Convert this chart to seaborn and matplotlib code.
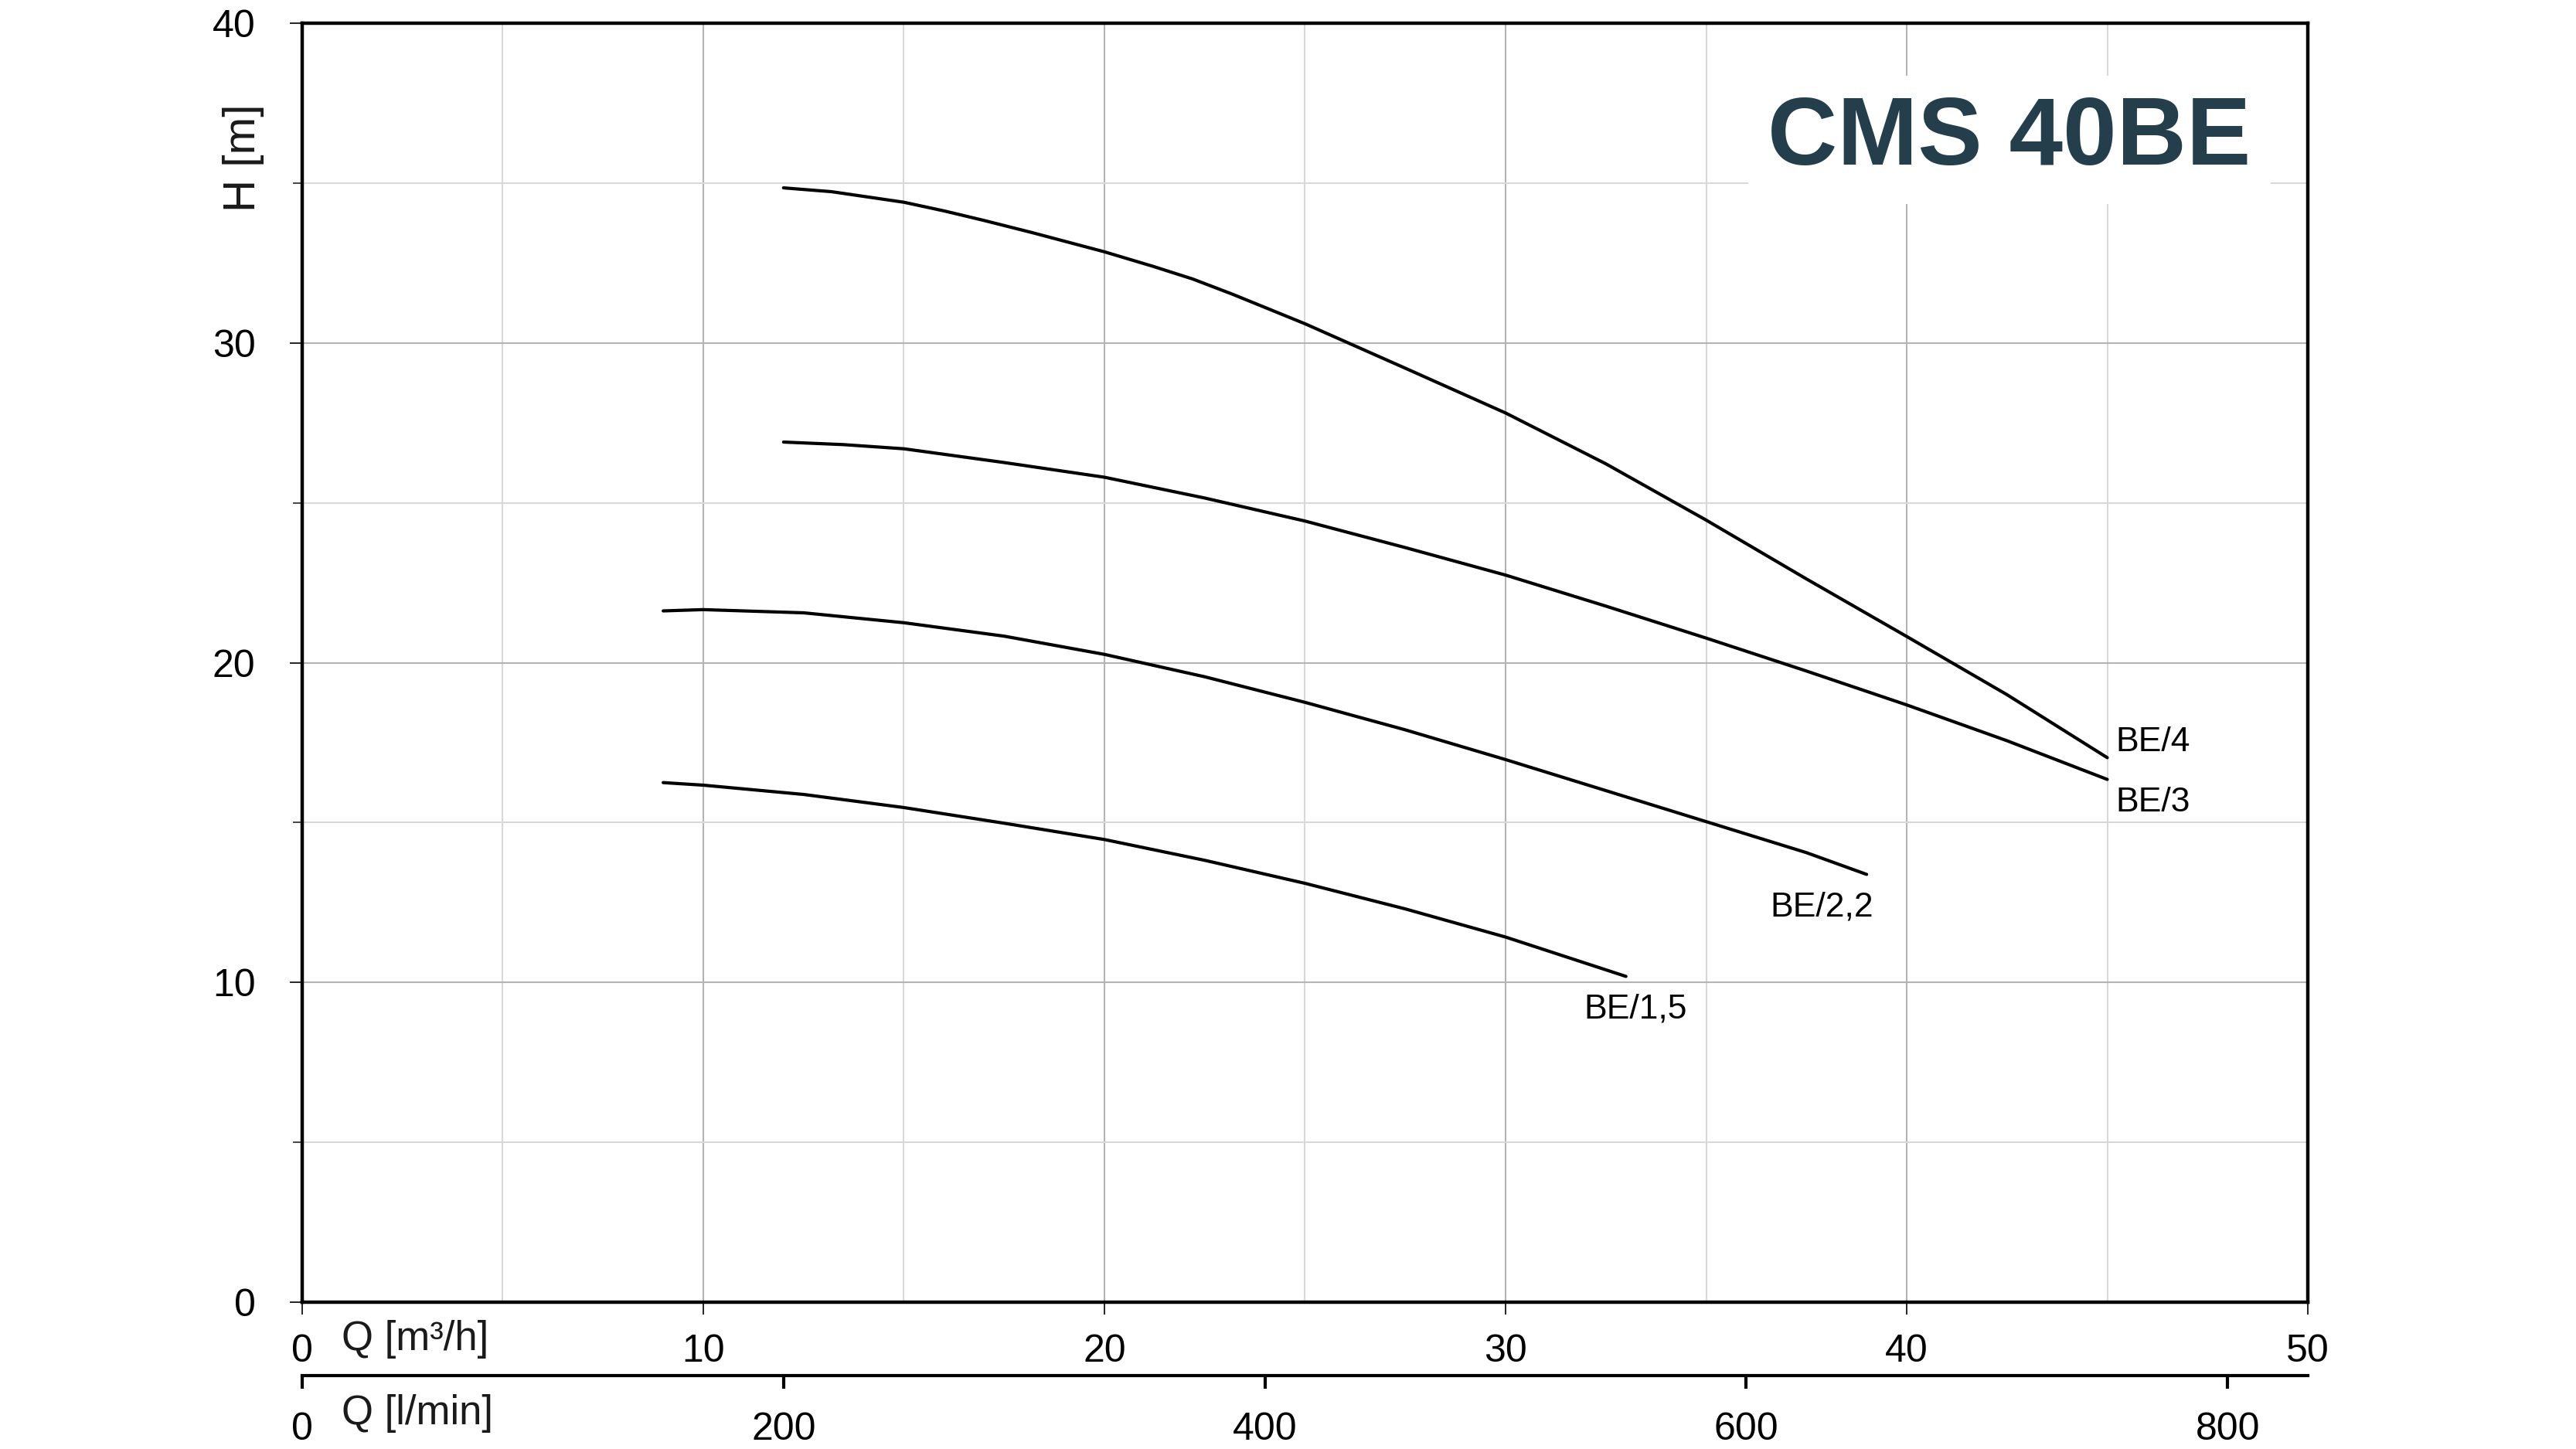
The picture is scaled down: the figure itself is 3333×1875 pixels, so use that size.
import pandas as pd
import matplotlib.pyplot as plt
import matplotlib.ticker as mticker
import seaborn as sns

# pump curves, Q in m3/h, H in m
q_be4 = [12, 13.2, 15, 16, 17, 18.2, 20, 21.2, 22.2, 23.2, 25, 27.5, 30, 32.5, 35, 37.5, 40, 42.5, 45]
h_be4 = [34.85, 34.73, 34.40, 34.13, 33.83, 33.45, 32.85, 32.40, 32.00, 31.52, 30.60, 29.21, 27.81, 26.22, 24.46, 22.62, 20.82, 19.00, 17.03]

q_be3 = [12, 13.5, 15, 17.5, 20, 22.5, 25, 27.5, 30, 32.5, 35, 37.5, 40, 42.5, 45]
h_be3 = [26.90, 26.82, 26.69, 26.26, 25.80, 25.15, 24.43, 23.60, 22.74, 21.77, 20.77, 19.74, 18.68, 17.56, 16.35]

q_be22 = [9, 10, 12.5, 15, 17.5, 20, 22.5, 25, 27.5, 30, 32.5, 35, 37.5, 39]
h_be22 = [21.62, 21.66, 21.56, 21.25, 20.83, 20.26, 19.56, 18.76, 17.90, 16.97, 16.00, 15.03, 14.06, 13.38]

q_be15 = [9, 10, 12.5, 15, 17.5, 20, 22.5, 25, 27.5, 30, 33]
h_be15 = [16.25, 16.17, 15.88, 15.47, 14.98, 14.47, 13.82, 13.10, 12.30, 11.42, 10.19]

curve_names = ["BE/4", "BE/3", "BE/2,2", "BE/1,5"]
# label anchor (left edge, baseline) in data units
label_q = [45.2, 45.2, 36.6, 31.95]
label_h = [17.23, 15.35, 12.08, 8.89]

x_ticks = [0, 10, 20, 30, 40, 50]
y_ticks = [0, 10, 20, 30, 40]
lmin_ticks = [0, 200, 400, 600, 800]

df = pd.concat([
    pd.DataFrame({"Q": q_be4, "H": h_be4, "pump": "BE/4"}),
    pd.DataFrame({"Q": q_be3, "H": h_be3, "pump": "BE/3"}),
    pd.DataFrame({"Q": q_be22, "H": h_be22, "pump": "BE/2,2"}),
    pd.DataFrame({"Q": q_be15, "H": h_be15, "pump": "BE/1,5"}),
])

sns.set_style("white")
plt.rcParams["font.family"] = ["Liberation Sans", "DejaVu Sans"]

fig = plt.figure(figsize=(16.665, 9.375), dpi=200)
ax = fig.add_axes([0.1173, 0.1013, 0.7786, 0.8827])

sns.lineplot(data=df, x="Q", y="H", hue="pump", estimator=None, sort=True,
             palette={n: "black" for n in curve_names}, legend=False,
             linewidth=1.5, ax=ax, zorder=3)
for line in ax.lines:
    line.set_solid_capstyle("round")
    line.set_solid_joinstyle("round")

ax.set_xlim(0, 50)
ax.set_ylim(0, 40)
ax.set_xlabel("")
ax.set_ylabel("")

ax.xaxis.set_major_locator(mticker.FixedLocator(x_ticks))
ax.xaxis.set_minor_locator(mticker.MultipleLocator(5))
ax.yaxis.set_major_locator(mticker.FixedLocator(y_ticks))
ax.yaxis.set_minor_locator(mticker.MultipleLocator(5))

ax.set_axisbelow(True)
ax.grid(which="major", color="#b4b4b4", linewidth=0.75)
ax.grid(which="minor", color="#d8d8d8", linewidth=0.75)

for s in ax.spines.values():
    s.set_color("black")
    s.set_linewidth(1.6)

ax.tick_params(axis="x", which="major", direction="out", length=5.8, width=0.6,
               labelsize=18, pad=9, colors="black", bottom=True)
ax.tick_params(axis="x", which="minor", length=0, bottom=False)
ax.tick_params(axis="y", which="major", direction="out", length=5.8, width=0.6,
               labelsize=18, pad=16, colors="black", left=True)
ax.tick_params(axis="y", which="minor", direction="out", length=4.3, width=0.6,
               left=True)

# second flow scale in l/min
sec = ax.secondary_xaxis(-0.0574, functions=(lambda q: q * 1000 / 60,
                                            lambda l: l * 60 / 1000))
sec.set_xticks(lmin_ticks)
sec.spines["bottom"].set_linewidth(1.5)
sec.spines["bottom"].set_color("black")
sec.tick_params(axis="x", direction="out", length=6, width=1.5,
                labelsize=18, pad=11, colors="black")

ax.text(0.0197, -0.029, "Q [m³/h]", transform=ax.transAxes, fontsize=19,
        ha="left", va="center", color="#1a1a1a")
ax.text(0.0197, -0.087, "Q [l/min]", transform=ax.transAxes, fontsize=19,
        ha="left", va="center", color="#1a1a1a")
ax.text(-0.0293, 0.895, "H [m]", transform=ax.transAxes, fontsize=21,
        rotation=90, ha="center", va="center", color="#1a1a1a")

for name, lq, lh in zip(curve_names, label_q, label_h):
    ax.text(lq, lh, name, fontsize=16, ha="left", va="baseline", color="black",
            zorder=4)

ax.text(42.56, 35.58, "CMS 40BE", fontsize=45, fontweight="bold",
        color="#243e4c", ha="center", va="baseline", zorder=5,
        bbox=dict(boxstyle="square,pad=0.2", facecolor="white",
                  edgecolor="none"))

fig.savefig("out.png", dpi=200)
